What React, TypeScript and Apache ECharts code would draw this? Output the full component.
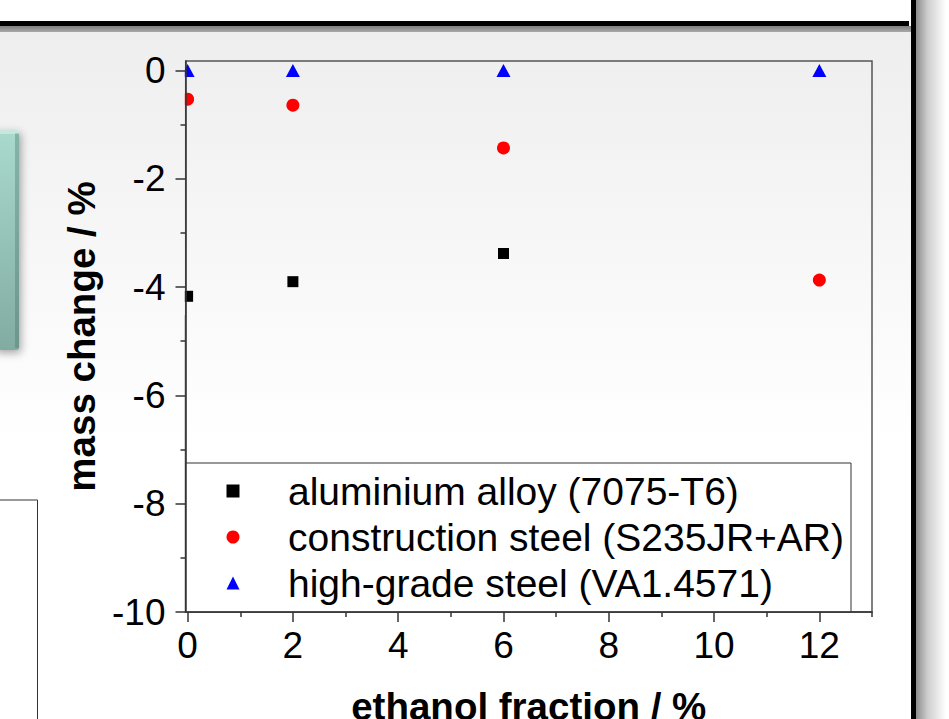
import React, { useEffect, useRef } from 'react';
import * as echarts from 'echarts';

// Ethanol fraction (%) of the test fuels
const ethanolFraction = [0, 2, 6, 12];

// Mass change (%) per material; the aluminium alloy has no 12 % sample
const aluminiumAlloy = [-4.17, -3.9, -3.38];
const constructionSteel = [-0.53, -0.64, -1.43, -3.87];
const highGradeSteel = [0, 0, 0, 0];

const seriesNames = [
  'aluminium alloy (7075-T6)',
  'construction steel (S235JR+AR)',
  'high-grade steel (VA1.4571)',
];

const yTickValues = [-10, -8, -6, -4, -2, 0];
const yMinorTickValues = [-9, -7, -5, -3, -1];
const xTickValues = [0, 2, 4, 6, 8, 10, 12];
const xMinorTickValues = [1, 3, 5, 7, 9, 11, 13];

const FONT = '"Liberation Sans", Arial, Helvetica, sans-serif';

const toPoints = (values: number[]) =>
  values.map((v, i) => [ethanolFraction[i], v]);

// slide background: light grey at the top fading to white
const slideGradient = () => ({
  type: 'linear',
  x: 0,
  y: 32,
  x2: 0,
  y2: 719,
  global: true,
  colorStops: [
    { offset: 0, color: '#eeeeee' },
    { offset: 0.6, color: '#ffffff' },
    { offset: 1, color: '#ffffff' },
  ],
});

export default function App() {
  const ref = useRef<HTMLDivElement>(null);

  useEffect(() => {
    if (!ref.current) return;
    const chart = echarts.init(ref.current, undefined, { renderer: 'svg' });

    const gridBox = { left: 185.5, top: 61, right: 77, bottom: 107 };
    const axisLineStyle = { color: '#333', width: 1.5 };

    const option: any = {
      animation: false,
      backgroundColor: '#ffffff',
      grid: [
        {
          ...gridBox,
          show: true,
          borderColor: '#555',
          borderWidth: 1.5,
          backgroundColor: 'transparent',
          outerBoundsMode: 'none',
        },
        { ...gridBox, show: false, outerBoundsMode: 'none' },
      ],
      xAxis: [
        {
          type: 'value',
          gridIndex: 0,
          position: 'bottom',
          min: -0.04,
          max: 13,
          z: 3,
          name: 'ethanol fraction / %',
          nameLocation: 'middle',
          nameGap: 75,
          nameTextStyle: { fontFamily: FONT, fontSize: 38.5, fontWeight: 'bold', color: '#000' },
          axisLine: { show: true, onZero: false, lineStyle: axisLineStyle },
          axisTick: { show: true, length: 10, lineStyle: axisLineStyle, customValues: xTickValues },
          axisLabel: {
            show: true,
            customValues: xTickValues,
            margin: 15,
            fontFamily: FONT,
            fontSize: 37,
            color: '#000',
          },
          splitLine: { show: false },
        },
        {
          type: 'value',
          gridIndex: 1,
          position: 'bottom',
          min: -0.04,
          max: 13,
          z: 3,
          axisLine: { show: false, onZero: false },
          axisTick: { show: true, length: 5, lineStyle: axisLineStyle, customValues: xMinorTickValues },
          axisLabel: { show: false },
          splitLine: { show: false },
        },
      ],
      yAxis: [
        {
          type: 'value',
          gridIndex: 0,
          position: 'left',
          min: -10,
          max: 0.175,
          z: 3,
          name: 'mass change / %',
          nameLocation: 'middle',
          nameGap: 84,
          nameTextStyle: { fontFamily: FONT, fontSize: 38.5, fontWeight: 'bold', color: '#000' },
          axisLine: { show: true, onZero: false, lineStyle: axisLineStyle },
          axisTick: { show: true, length: 10, lineStyle: axisLineStyle, customValues: yTickValues },
          axisLabel: {
            show: true,
            customValues: yTickValues,
            margin: 20,
            fontFamily: FONT,
            fontSize: 37,
            color: '#000',
          },
          splitLine: { show: false },
        },
        {
          type: 'value',
          gridIndex: 1,
          position: 'left',
          min: -10,
          max: 0.175,
          z: 3,
          axisLine: { show: false, onZero: false },
          axisTick: { show: true, length: 5, lineStyle: axisLineStyle, customValues: yMinorTickValues },
          axisLabel: { show: false },
          splitLine: { show: false },
        },
      ],
      legend: {
        orient: 'vertical',
        left: 226.5,
        top: 471,
        padding: 0,
        itemWidth: 13,
        itemHeight: 13,
        itemGap: 6,
        selectedMode: false,
        data: seriesNames,
        textStyle: {
          fontFamily: FONT,
          fontSize: 39,
          color: '#000',
          lineHeight: 40,
          padding: [0, 0, 0, 43.5],
        },
      },
      series: [
        {
          name: seriesNames[0],
          type: 'scatter',
          xAxisIndex: 0,
          yAxisIndex: 0,
          symbol: 'rect',
          symbolSize: 11,
          itemStyle: { color: '#000000', opacity: 1 },
          data: toPoints(aluminiumAlloy),
          clip: false,
        },
        {
          name: seriesNames[1],
          type: 'scatter',
          xAxisIndex: 0,
          yAxisIndex: 0,
          symbol: 'circle',
          symbolSize: 13,
          itemStyle: { color: '#ff0000', opacity: 1 },
          data: toPoints(constructionSteel),
          clip: false,
        },
        {
          name: seriesNames[2],
          type: 'scatter',
          xAxisIndex: 0,
          yAxisIndex: 0,
          symbol: 'triangle',
          symbolSize: [14, 13],
          itemStyle: { color: '#0000ff', opacity: 1 },
          data: toPoints(highGradeSteel),
          clip: false,
        },
      ],
      graphic: {
        elements: [
          {
            type: 'rect',
            z: -10,
            shape: { x: 0, y: 32, width: 911, height: 687 },
            style: { fill: slideGradient() },
          },
          // heavy frame line across the top with its grey shadow
          {
            type: 'rect',
            z: -9,
            shape: { x: 0, y: 26, width: 916, height: 6 },
            style: {
              fill: {
                type: 'linear', x: 0, y: 0, x2: 0, y2: 1,
                colorStops: [
                  { offset: 0, color: '#7e7e7e' },
                  { offset: 1, color: '#a8a8a8' },
                ],
              },
            },
          },
          {
            type: 'rect',
            z: -8,
            shape: { x: 0, y: 21, width: 909, height: 5 },
            style: { fill: '#000000' },
          },
          // vertical frame line on the right with a soft shadow
          {
            type: 'rect',
            z: -9,
            shape: { x: 916, y: 0, width: 30, height: 719 },
            style: {
              fill: {
                type: 'linear', x: 0, y: 0, x2: 1, y2: 0,
                colorStops: [
                  { offset: 0, color: '#8c8c8c' },
                  { offset: 0.4, color: '#cfcfcf' },
                  { offset: 1, color: '#ffffff' },
                ],
              },
            },
          },
          {
            type: 'rect',
            z: -8,
            shape: { x: 911, y: 0, width: 5, height: 719 },
            style: { fill: '#000000' },
          },
          // teal button on the left edge
          {
            type: 'rect',
            z: -7,
            shape: { x: -6, y: 130, width: 25, height: 220, r: 2 },
            style: {
              fill: {
                type: 'linear', x: 0, y: 0, x2: 0, y2: 1,
                colorStops: [
                  { offset: 0, color: '#a9dacd' },
                  { offset: 1, color: '#82aca1' },
                ],
              },
              shadowBlur: 8,
              shadowOffsetX: 2,
              shadowOffsetY: 3,
              shadowColor: 'rgba(0,0,0,0.35)',
            },
          },
          {
            type: 'rect',
            z: -6,
            shape: { x: 15, y: 133, width: 4, height: 215 },
            style: { fill: 'rgba(70,110,100,0.35)' },
          },
          {
            type: 'rect',
            z: -6,
            shape: { x: -6, y: 130, width: 25, height: 4 },
            style: { fill: 'rgba(255,255,255,0.35)' },
          },
          // text box outline at the lower left
          {
            type: 'rect',
            z: -7,
            shape: { x: -2, y: 500, width: 39.5, height: 230 },
            style: { fill: '#ffffff', stroke: '#333333', lineWidth: 1 },
          },
          // markers sitting on x = 0 are cut at the plot frame
          {
            type: 'rect',
            z: 2.5,
            shape: { x: 168, y: 55, width: 16.8, height: 260 },
            style: { fill: slideGradient() },
          },
          // legend frame
          {
            type: 'rect',
            z: 1,
            shape: { x: 185.5, y: 463, width: 665.5, height: 149 },
            style: { fill: '#ffffff', stroke: '#333333', lineWidth: 1 },
          },
        ],
      },
    };

    chart.setOption(option);
    return () => chart.dispose();
  }, []);

  return (
    <div
      ref={ref}
      style={{ position: 'absolute', left: 0, top: 0, width: 949, height: 719 }}
    />
  );
}
